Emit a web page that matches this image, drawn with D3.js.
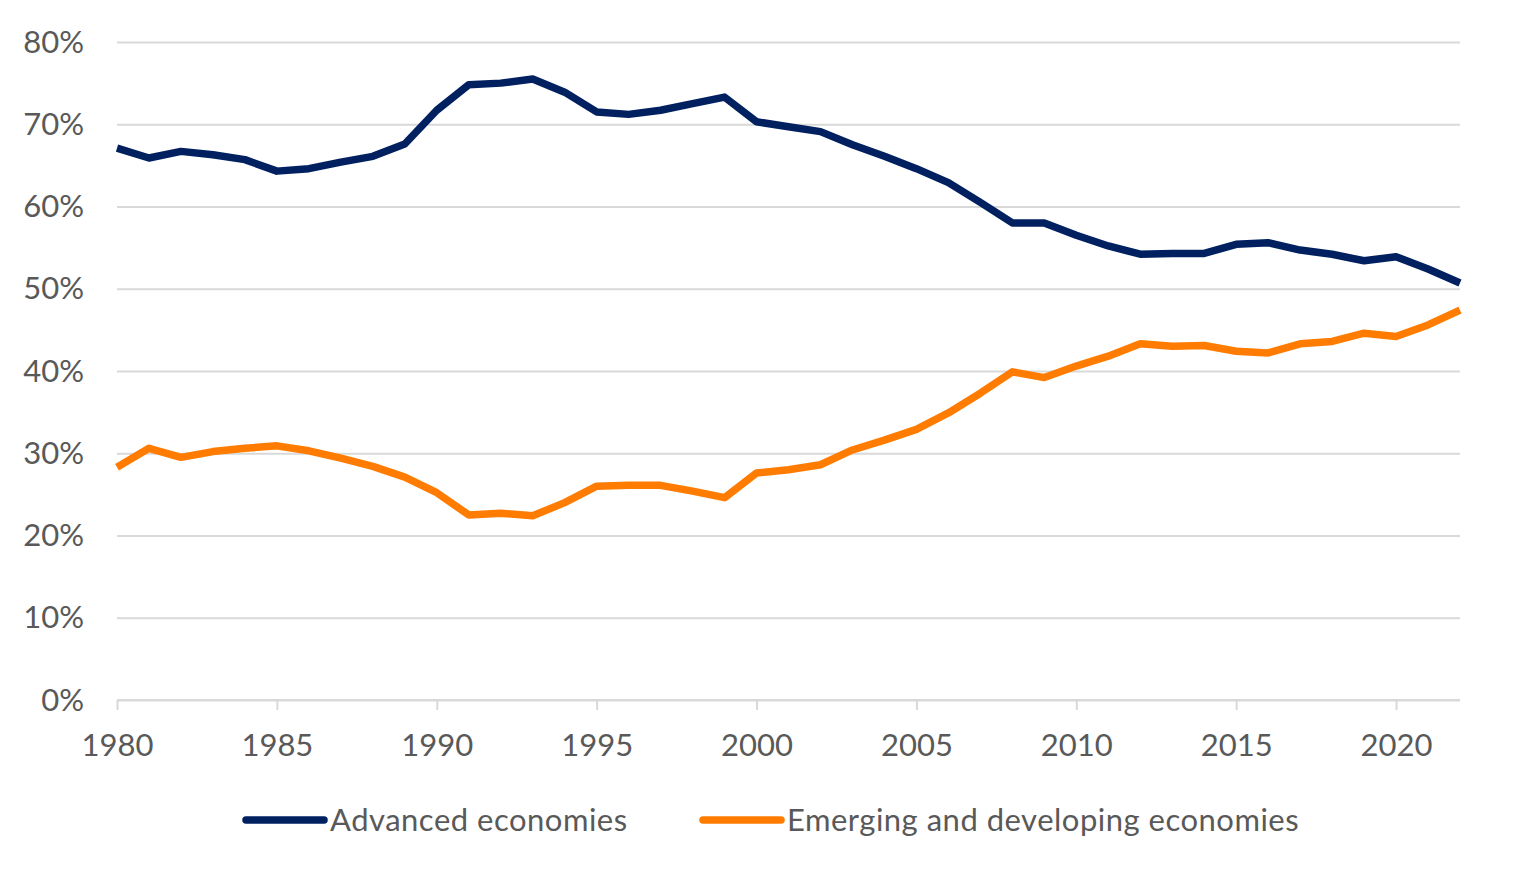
<!DOCTYPE html>
<html>
<head>
	<meta charset="utf-8">
	<title>Advanced vs emerging economies</title>
	<style>
		body { margin: 0; background: #fff; }
		text { font-family: Lato, "Open Sans", sans-serif; fill: #595959; }
	</style>
</head>
<body>
<div class="chart"></div>
<script src="https://cdn.jsdelivr.net/npm/d3@7/dist/d3.min.js"></script>
<script>
	// data (share, %)
	const years = d3.range(1980, 2023);
	const advanced = [
		67.1, 65.9, 66.7, 66.3, 65.7, 64.3, 64.6, 65.4, 66.1, 67.6,
		71.7, 74.8, 75.0, 75.5, 73.9, 71.5, 71.2, 71.7, 72.5, 73.3,
		70.3, 69.7, 69.1, 67.5, 66.1, 64.6, 62.9, 60.5, 58.0, 58.0,
		56.5, 55.2, 54.2, 54.3, 54.3, 55.4, 55.6, 54.7, 54.2, 53.4,
		53.9, 52.4, 50.7
	];
	const emerging = [
		28.3, 30.6, 29.5, 30.2, 30.6, 30.9, 30.3, 29.4, 28.4, 27.1,
		25.2, 22.5, 22.7, 22.4, 24.0, 26.0, 26.1, 26.1, 25.4, 24.6,
		27.6, 28.0, 28.6, 30.4, 31.6, 32.9, 34.9, 37.3, 39.9, 39.2,
		40.6, 41.8, 43.3, 43.0, 43.1, 42.4, 42.2, 43.3, 43.6, 44.6,
		44.2, 45.6, 47.4
	];
	const yTicks = [0, 10, 20, 30, 40, 50, 60, 70, 80];
	const xTicks = [1980, 1985, 1990, 1995, 2000, 2005, 2010, 2015, 2020];
	const seriesNames = ["Advanced economies", "Emerging and developing economies"];
	const colors = ["#002060", "#ff7c00"];

	const width = 1536, height = 876;
	const margin = {top: 42, right: 76, bottom: 176, left: 117};
	const innerW = width - margin.left - margin.right;
	const innerH = height - margin.top - margin.bottom;
	const fontSize = 31;

	const svg = d3.select(".chart").append("svg")
		.attr("width", width)
		.attr("height", height);

	const g = svg.append("g")
		.attr("transform", "translate(" + margin.left + "," + margin.top + ")");

	const x = d3.scaleLinear().domain([1980, 2022]).range([0, innerW]);
	const y = d3.scaleLinear().domain([0, 80]).range([innerH, 0]);

	// gridlines + y labels
	const yAxis = d3.axisLeft(y)
		.tickValues(yTicks)
		.tickSize(-innerW)
		.tickPadding(33)
		.tickFormat(d => d + "%");
	g.append("g")
		.attr("class", "axis-y")
		.call(yAxis)
		.call(s => s.select(".domain").remove())
		.call(s => s.selectAll("line").attr("stroke", "#d9d9d9").attr("stroke-width", 2))
		.call(s => s.selectAll("text").attr("font-size", fontSize).attr("dy", "0.33em"));

	// x axis
	const xAxis = d3.axisBottom(x)
		.tickValues(xTicks)
		.tickSize(10)
		.tickPadding(24)
		.tickFormat(d3.format("d"));
	g.append("g")
		.attr("class", "axis-x")
		.attr("transform", "translate(0," + innerH + ")")
		.call(xAxis)
		.call(s => s.select(".domain").attr("stroke", "#d9d9d9").attr("stroke-width", 2).attr("d", "M0,0H" + innerW))
		.call(s => s.selectAll("line").attr("stroke", "#d9d9d9").attr("stroke-width", 2))
		.call(s => s.selectAll("text").attr("font-size", fontSize));

	// lines
	const line = d3.line()
		.x((d, i) => x(years[i]))
		.y(d => y(d));

	[advanced, emerging].forEach((vals, i) => {
		g.append("path")
			.datum(vals)
			.attr("fill", "none")
			.attr("stroke", colors[i])
			.attr("stroke-width", 7.5)
			.attr("stroke-linejoin", "round")
			.attr("d", line);
	});

	// legend
	const legendX = [246, 703];
	const legend = svg.append("g").attr("class", "legend");
	seriesNames.forEach((name, i) => {
		legend.append("line")
			.attr("x1", legendX[i]).attr("x2", legendX[i] + 78)
			.attr("y1", 820).attr("y2", 820)
			.attr("stroke", colors[i])
			.attr("stroke-width", 7.5)
			.attr("stroke-linecap", "round");
		legend.append("text")
			.attr("x", legendX[i] + 84)
			.attr("y", 820)
			.attr("dy", "0.35em")
			.attr("font-size", fontSize)
			.attr("letter-spacing", 0.5)
			.text(name);
	});
</script>
</body>
</html>
